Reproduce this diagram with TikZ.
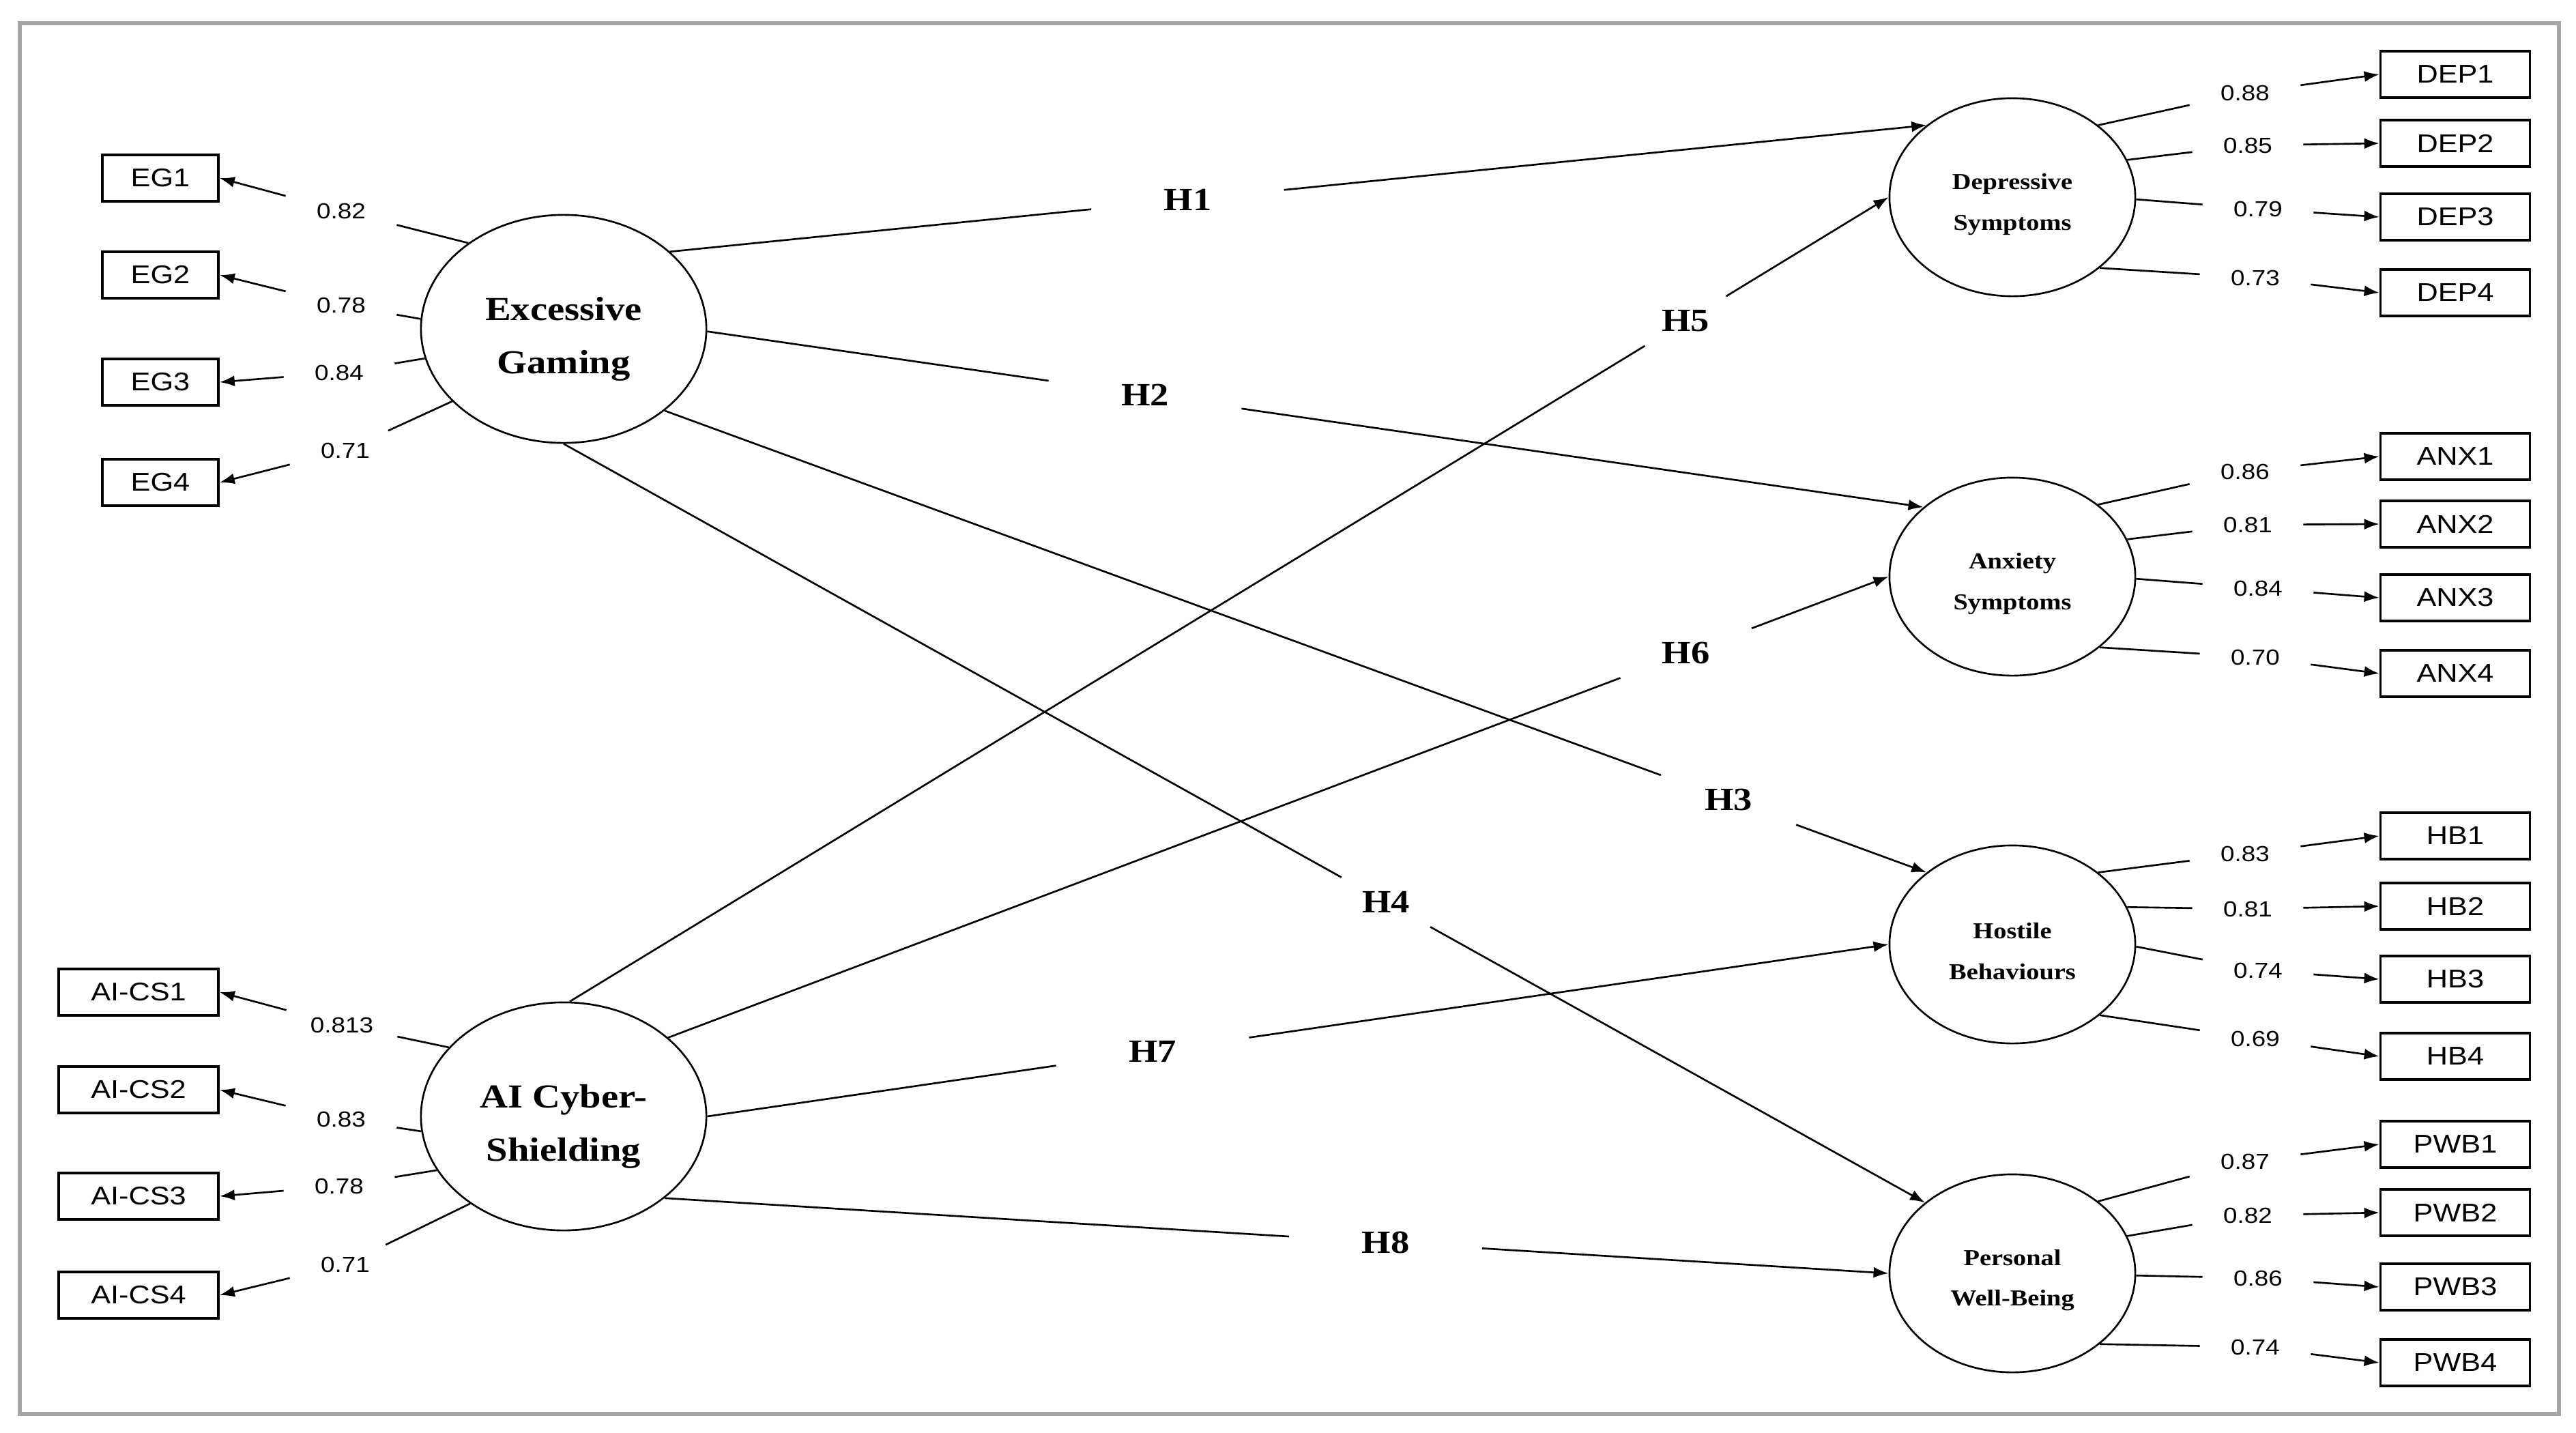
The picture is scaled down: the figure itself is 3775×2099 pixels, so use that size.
\documentclass[tikz,border=0pt]{standalone}
\usepackage{fontspec}
\newfontfamily\obsfont{Liberation Sans}[FakeStretch=1.15]
\newfontfamily\latfont{Liberation Serif}[FakeStretch=1.15]
\usetikzlibrary{arrows.meta,shapes.geometric}
\definecolor{framegray}{HTML}{A6A6A6}
\newcommand{\topgap}{\rule{0pt}{1.3em}}

\begin{document}
\begin{tikzpicture}[x=0.01cm, y=-0.01cm, line width=0.75pt,
    obs/.style={draw, line width=1pt, minimum height=0.68cm, inner sep=0pt, font=\obsfont\fontsize{10.7}{12}\selectfont},
    obsl/.style={obs, minimum width=1.7cm},
    obsa/.style={obs, minimum width=2.34cm},
    obsr/.style={obs, minimum width=2.19cm},
    lat/.style={draw, ellipse, inner sep=0pt, align=center, minimum width=4.18cm, minimum height=3.34cm, font=\latfont\bfseries\fontsize{14}{22}\selectfont},
    latsm/.style={lat, minimum width=3.6cm, minimum height=2.9cm, font=\latfont\bfseries\fontsize{9.5}{17}\selectfont},
    load/.style={minimum width=1.6cm, minimum height=0.55cm, inner sep=0pt, font=\obsfont\fontsize{9.1}{11}\selectfont},
    hyp/.style={minimum width=2.8cm, minimum height=0.7cm, inner sep=0pt, font=\latfont\bfseries\fontsize{13.5}{16}\selectfont},
    arr/.style={-{Latex[length=2.2mm, width=1.6mm]}}]
    \useasboundingbox (0,0) rectangle (3775,2099);
    \draw[framegray, line width=1.7pt] (29,34) rectangle (3750,2072);

    % latent variables
    \node[lat] (eg) at (826,482) {\topgap Excessive\\Gaming};
    \node[lat] (ai) at (826,1636) {\topgap AI Cyber-\\Shielding};
    \node[latsm] (dep) at (2949,289) {\topgap Depressive\\Symptoms};
    \node[latsm] (anx) at (2949,845) {\topgap Anxiety\\Symptoms};
    \node[latsm] (hb) at (2949,1384) {\topgap Hostile\\Behaviours};
    \node[latsm] (pwb) at (2949,1866) {\topgap Personal\\Well-Being};

    % indicators
    \node[obsl] (eg1) at (235,261) {EG1};
    \node[obsl] (eg2) at (235,403) {EG2};
    \node[obsl] (eg3) at (235,560) {EG3};
    \node[obsl] (eg4) at (235,707) {EG4};
    \node[obsa] (cs1) at (203,1454) {AI-CS1};
    \node[obsa] (cs2) at (203,1597) {AI-CS2};
    \node[obsa] (cs3) at (203,1753) {AI-CS3};
    \node[obsa] (cs4) at (203,1898) {AI-CS4};
    \node[obsr] (dep1) at (3598,109) {DEP1};
    \node[obsr] (dep2) at (3598,210) {DEP2};
    \node[obsr] (dep3) at (3598,318) {DEP3};
    \node[obsr] (dep4) at (3598,429) {DEP4};
    \node[obsr] (anx1) at (3598,669) {ANX1};
    \node[obsr] (anx2) at (3598,768) {ANX2};
    \node[obsr] (anx3) at (3598,876) {ANX3};
    \node[obsr] (anx4) at (3598,987) {ANX4};
    \node[obsr] (hb1) at (3598,1225) {HB1};
    \node[obsr] (hb2) at (3598,1328) {HB2};
    \node[obsr] (hb3) at (3598,1435) {HB3};
    \node[obsr] (hb4) at (3598,1548) {HB4};
    \node[obsr] (pwb1) at (3598,1677) {PWB1};
    \node[obsr] (pwb2) at (3598,1777) {PWB2};
    \node[obsr] (pwb3) at (3598,1886) {PWB3};
    \node[obsr] (pwb4) at (3598,1997) {PWB4};

    % loadings
    \node[load] (leg1) at (500,309) {0.82};
    \node[load] (leg2) at (500,447) {0.78};
    \node[load] (leg3) at (497,546) {0.84};
    \node[load] (leg4) at (506,660) {0.71};
    \node[load] (lcs1) at (501,1502) {0.813};
    \node[load] (lcs2) at (500,1640) {0.83};
    \node[load] (lcs3) at (497,1738) {0.78};
    \node[load] (lcs4) at (506,1853) {0.71};
    \node[load] (ldep1) at (3290,136) {0.88};
    \node[load] (ldep2) at (3294,213) {0.85};
    \node[load] (ldep3) at (3309,306) {0.79};
    \node[load] (ldep4) at (3305,407) {0.73};
    \node[load] (lanx1) at (3290,691) {0.86};
    \node[load] (lanx2) at (3294,769) {0.81};
    \node[load] (lanx3) at (3309,862) {0.84};
    \node[load] (lanx4) at (3305,963) {0.70};
    \node[load] (lhb1) at (3290,1251) {0.83};
    \node[load] (lhb2) at (3294,1332) {0.81};
    \node[load] (lhb3) at (3309,1422) {0.74};
    \node[load] (lhb4) at (3305,1522) {0.69};
    \node[load] (lpwb1) at (3290,1702) {0.87};
    \node[load] (lpwb2) at (3294,1781) {0.82};
    \node[load] (lpwb3) at (3309,1873) {0.86};
    \node[load] (lpwb4) at (3305,1974) {0.74};

    \draw (eg.138) -- (leg1); \draw[arr] (leg1) -- (eg1.east);
    \draw (eg.176) -- (leg2); \draw[arr] (leg2) -- (eg2.east);
    \draw (eg.192) -- (leg3); \draw[arr] (leg3) -- (eg3.east);
    \draw (eg.213) -- (leg4); \draw[arr] (leg4) -- (eg4.east);
    \draw (ai.149) -- (lcs1); \draw[arr] (lcs1) -- (cs1.east);
    \draw (ai.186) -- (lcs2); \draw[arr] (lcs2) -- (cs2.east);
    \draw (ai.203) -- (lcs3); \draw[arr] (lcs3) -- (cs3.east);
    \draw (ai.223) -- (lcs4); \draw[arr] (lcs4) -- (cs4.east);
    \draw (dep.40) -- (ldep1); \draw[arr] (ldep1) -- (dep1.west);
    \draw (dep.18) -- (ldep2); \draw[arr] (ldep2) -- (dep2.west);
    \draw (dep.-1) -- (ldep3); \draw[arr] (ldep3) -- (dep3.west);
    \draw (dep.-39) -- (ldep4); \draw[arr] (ldep4) -- (dep4.west);
    \draw (anx.40) -- (lanx1); \draw[arr] (lanx1) -- (anx1.west);
    \draw (anx.18) -- (lanx2); \draw[arr] (lanx2) -- (anx2.west);
    \draw (anx.-1) -- (lanx3); \draw[arr] (lanx3) -- (anx3.west);
    \draw (anx.-39) -- (lanx4); \draw[arr] (lanx4) -- (anx4.west);
    \draw (hb.40) -- (lhb1); \draw[arr] (lhb1) -- (hb1.west);
    \draw (hb.18) -- (lhb2); \draw[arr] (lhb2) -- (hb2.west);
    \draw (hb.-1) -- (lhb3); \draw[arr] (lhb3) -- (hb3.west);
    \draw (hb.-39) -- (lhb4); \draw[arr] (lhb4) -- (hb4.west);
    \draw (pwb.40) -- (lpwb1); \draw[arr] (lpwb1) -- (pwb1.west);
    \draw (pwb.18) -- (lpwb2); \draw[arr] (lpwb2) -- (pwb2.west);
    \draw (pwb.-1) -- (lpwb3); \draw[arr] (lpwb3) -- (pwb3.west);
    \draw (pwb.-39) -- (lpwb4); \draw[arr] (lpwb4) -- (pwb4.west);

    % hypotheses
    \path (eg.36) -- node[hyp, pos=0.412] (h1) {H1} (dep.140);
    \path (eg.-1) -- node[hyp, pos=0.36] (h2) {H2} (anx.142);
    \path (eg.-39) -- node[hyp, pos=0.843] (h3) {H3} (hb.140);
    \path (eg.-90) -- node[hyp, pos=0.604] (h4) {H4} (pwb.141);
    \path (ai.87) -- node[hyp, pos=0.846] (h5) {H5} (dep.180);
    \path (ai.37) -- node[hyp, pos=0.834] (h6) {H6} (anx.180);
    \path (ai.0) -- node[hyp, pos=0.377] (h7) {H7} (hb.180);
    \path (ai.-39) -- node[hyp, pos=0.589] (h8) {H8} (pwb.180);
    \draw (eg.36) -- (h1); \draw[arr] (h1) -- (dep.140);
    \draw (eg.-1) -- (h2); \draw[arr] (h2) -- (anx.142);
    \draw (eg.-39) -- (h3); \draw[arr] (h3) -- (hb.140);
    \draw (eg.-90) -- (h4); \draw[arr] (h4) -- (pwb.141);
    \draw (ai.87) -- (h5); \draw[arr] (h5) -- (dep.180);
    \draw (ai.37) -- (h6); \draw[arr] (h6) -- (anx.180);
    \draw (ai.0) -- (h7); \draw[arr] (h7) -- (hb.180);
    \draw (ai.-39) -- (h8); \draw[arr] (h8) -- (pwb.180);
\end{tikzpicture}
\end{document}
